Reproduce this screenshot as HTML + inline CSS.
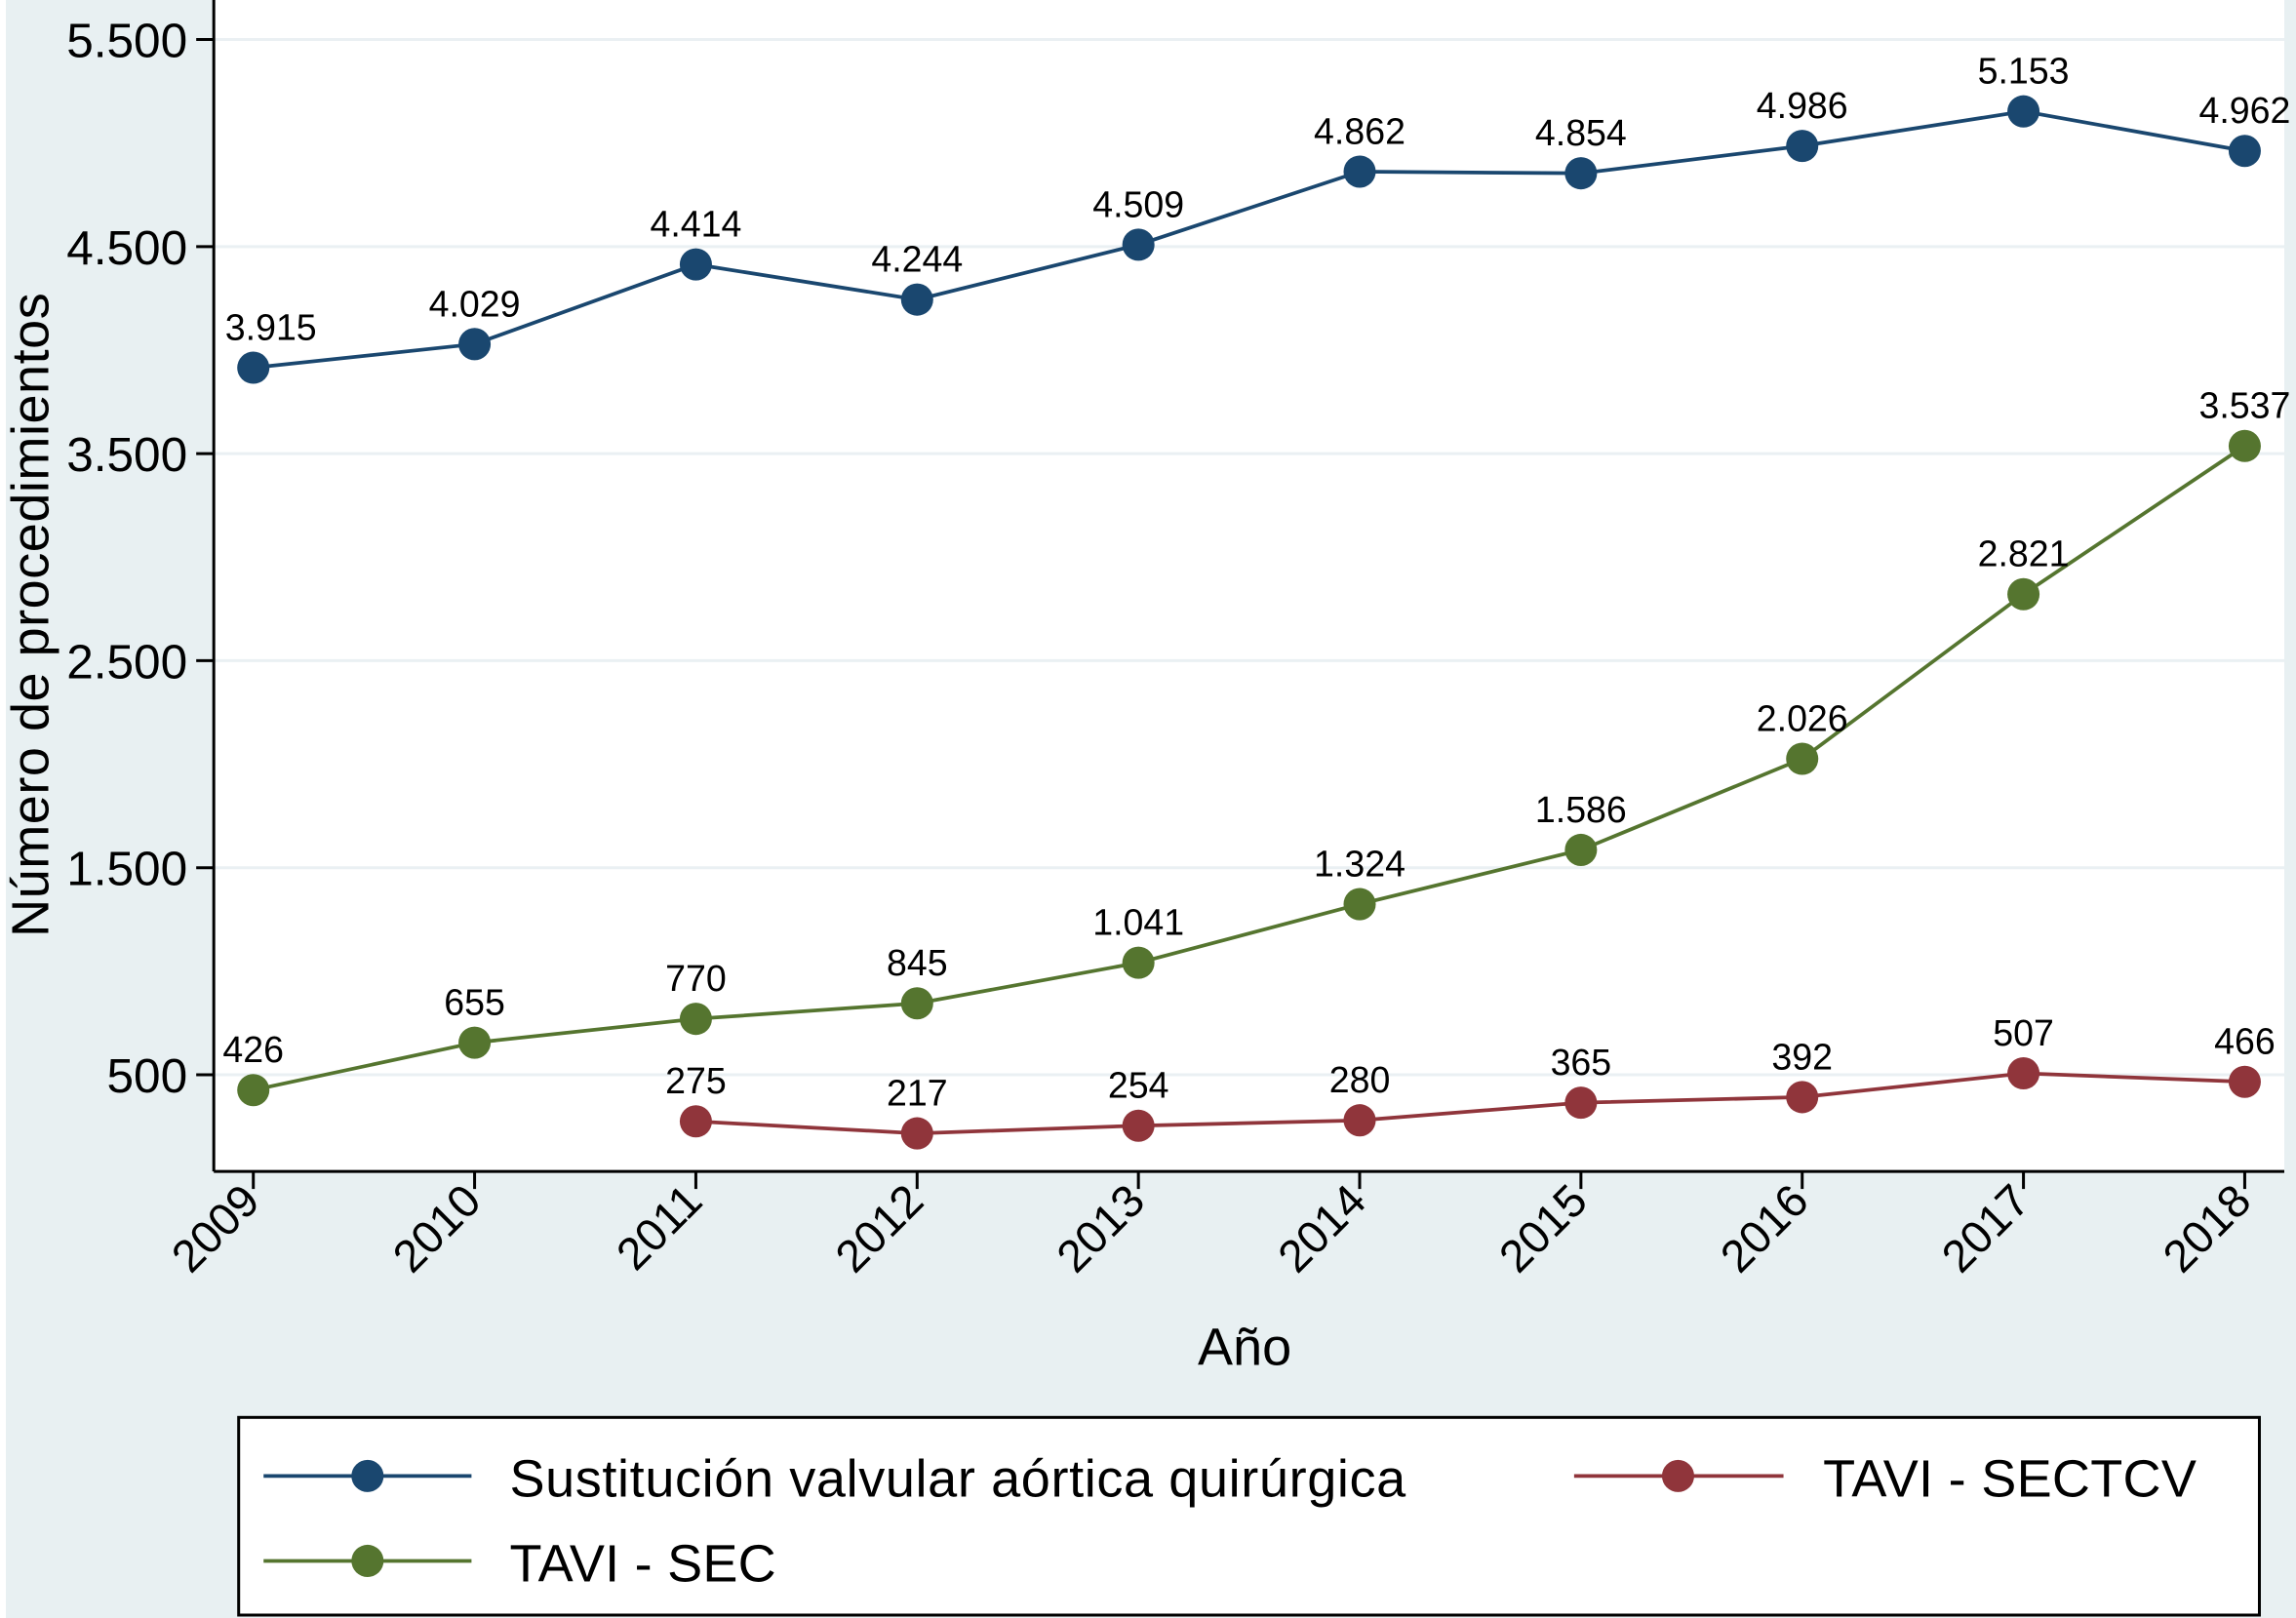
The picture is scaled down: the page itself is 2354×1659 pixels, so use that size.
<!DOCTYPE html>
<html><head><meta charset="utf-8"><style>
html,body{margin:0;padding:0;background:#fff}
svg{display:block}
text{font-family:"Liberation Sans",sans-serif;fill:#000}
</style></head><body>
<svg id="chart" width="2354" height="1659" viewBox="0 0 1568 1105" preserveAspectRatio="none" xmlns="http://www.w3.org/2000/svg">
<rect x="4" y="0" width="1564" height="1105" fill="#e8f0f2"/>
<rect x="146" y="0" width="1414" height="800" fill="#fff"/>
<g id="grid"></g>
<g id="series"></g>
<line x1="146" y1="0" x2="146" y2="800" stroke="#000" stroke-width="2"/>
<line x1="146" y1="800" x2="1560" y2="800" stroke="#000" stroke-width="2"/>
<g id="axes"></g>
<text x="33" y="420" font-size="36" text-anchor="middle" textLength="440" transform="rotate(-90 33 420)">Número de procedimientos</text>
<text x="850" y="932" font-size="36" text-anchor="middle">Año</text>
<g>
<rect x="163" y="968" width="1380" height="135" fill="#fff" stroke="#000" stroke-width="2"/>
<g>
<line x1="180" y1="1008" x2="322" y2="1008" stroke="#1a476f" stroke-width="2.5"/>
<circle cx="251" cy="1008" r="11" fill="#1a476f"/>
<text x="348" y="1022" font-size="36" textLength="612">Sustitución valvular aórtica quirúrgica</text></g>
<g>
<line x1="1075" y1="1008" x2="1218" y2="1008" stroke="#90353b" stroke-width="2.5"/>
<circle cx="1146" cy="1008" r="11" fill="#90353b"/>
<text x="1245" y="1022" font-size="36" textLength="255">TAVI - SECTCV</text></g>
<g>
<line x1="180" y1="1066" x2="322" y2="1066" stroke="#55752f" stroke-width="2.5"/>
<circle cx="251" cy="1066" r="11" fill="#55752f"/>
<text x="348" y="1080" font-size="36" textLength="182">TAVI - SEC</text></g>
</g>
</svg>
<script>
const years=[2009,2010,2011,2012,2013,2014,2015,2016,2017,2018];
const svaq=[3915,4029,4414,4244,4509,4862,4854,4986,5153,4962];
const taviSec=[426,655,770,845,1041,1324,1586,2026,2821,3537];
const taviSectcv=[null,null,275,217,254,280,365,392,507,466];
const yTicks=[500,1500,2500,3500,4500,5500];
const NS="http://www.w3.org/2000/svg";
function X(yr){return 173+(yr-2009)*151.11;}
function Y(v){return 734-(v-500)*0.1414;}
function fmt(v){return v>=1000?Math.floor(v/1000)+"."+String(v%1000).padStart(3,"0"):String(v);}
function mk(tag,attrs,parent){const e=document.createElementNS(NS,tag);for(const k in attrs)e.setAttribute(k,attrs[k]);parent.appendChild(e);return e;}
const grid=document.getElementById('grid'),axes=document.getElementById('axes'),ser=document.getElementById('series');
yTicks.forEach(t=>{
 const g=mk('line',{x1:147,x2:1560,y1:Y(t),y2:Y(t),stroke:'#eaf0f3','stroke-width':2},grid);
 
 
 const tk=mk('line',{x1:134,x2:146,y1:Y(t),y2:Y(t),stroke:'#000','stroke-width':2},axes);
 
 
 const tx=mk('text',{x:128,y:Y(t)+12,'font-size':33,'text-anchor':'end'},axes);
 tx.textContent=fmt(t);
 
 
});
years.forEach(yr=>{
 const tk=mk('line',{x1:X(yr),x2:X(yr),y1:800,y2:812,stroke:'#000','stroke-width':2},axes);
 
 
 const x=X(yr)+6,y=822;
 const tx=mk('text',{x:x,y:y,'font-size':31,'text-anchor':'end',transform:`rotate(-45 ${x} ${y})`},axes);
 tx.textContent=yr;
 
 
});
function drawSeries(vals,color,name){
 const g=mk('g',{},ser);
 
 
 const pts=[];
 vals.forEach((v,i)=>{if(v!=null)pts.push([X(years[i]),Y(v),v]);});
 const pl=mk('polyline',{points:pts.map(p=>p[0]+','+p[1]).join(' '),fill:'none',stroke:color,'stroke-width':2.5},g);
 
 
 pts.forEach(p=>{
  const c=mk('circle',{cx:p[0],cy:p[1],r:11,fill:color},g);
  
  
  let lx=p[0];
  if(lx<200)lx=Math.max(lx,146+String(fmt(p[2])).length*7+4);
  const t=mk('text',{x:lx,y:p[1]-19,'font-size':25,'text-anchor':'middle'},g);
  t.textContent=fmt(p[2]);
  
  
 });
}
drawSeries(svaq,'#1a476f','series-svaq');
drawSeries(taviSec,'#55752f','series-tavi-sec');
drawSeries(taviSectcv,'#90353b','series-tavi-sectcv');
</script>
</body></html>
